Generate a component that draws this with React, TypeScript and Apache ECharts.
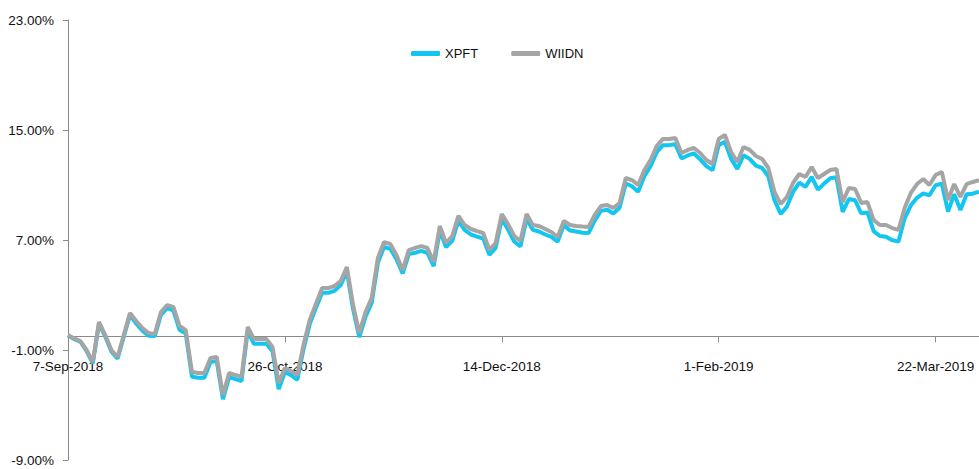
import React, { useEffect, useRef } from "react";
import * as echarts from "echarts";

// Weekday dates from 7-Sep-2018 (category axis, 148 trading days)
const startDate = new Date(2018, 8, 7);
const dayCount = 148;
const MONTHS = ["Jan", "Feb", "Mar", "Apr", "May", "Jun", "Jul", "Aug", "Sep", "Oct", "Nov", "Dec"];
const dates: string[] = [];
{
  const d = new Date(startDate);
  while (dates.length < dayCount) {
    const wd = d.getDay();
    if (wd !== 0 && wd !== 6) dates.push(`${d.getDate()}-${MONTHS[d.getMonth()]}-${d.getFullYear()}`);
    d.setDate(d.getDate() + 1);
  }
}

const seriesNames = ["XPFT", "WIIDN"];

const xpft = [
  0.06, -0.21, -0.40, -1.08, -1.97, 0.92, -0.01, -1.10, -1.63, -0.03,
  1.54, 0.93, 0.40, 0.04, 0.01, 1.56, 2.05, 1.88, 0.47, 0.20,
  -2.95, -3.02, -3.02, -1.88, -1.79, -4.57, -2.97, -3.12, -3.26, 0.42,
  -0.55, -0.55, -0.55, -1.08, -3.85, -2.61, -2.83, -3.17, -0.94, 0.88,
  2.05, 3.16, 3.16, 3.30, 3.72, 4.74, 1.97, -0.06, 1.41, 2.43,
  5.34, 6.50, 6.36, 5.61, 4.57, 5.97, 6.07, 6.21, 6.07, 5.10,
  7.67, 6.48, 6.94, 8.40, 7.74, 7.40, 7.25, 7.11, 5.92, 6.43,
  8.54, 7.76, 6.89, 6.53, 8.54, 7.74, 7.62, 7.40, 7.23, 6.87,
  8.08, 7.69, 7.62, 7.53, 7.50, 8.42, 9.12, 9.20, 8.93, 9.34,
  11.11, 10.91, 10.50, 11.64, 12.37, 13.39, 13.90, 13.90, 13.97, 12.93,
  13.15, 13.29, 12.88, 12.37, 12.08, 13.90, 14.14, 12.90, 12.17, 13.16,
  12.90, 12.41, 12.24, 11.64, 9.89, 8.90, 9.43, 10.50, 11.18, 10.86,
  11.59, 10.66, 11.10, 11.49, 11.56, 9.04, 9.98, 9.89, 8.94, 9.01,
  7.65, 7.29, 7.24, 6.99, 6.88, 8.58, 9.52, 10.07, 10.39, 10.25,
  10.98, 11.10, 9.06, 10.32, 9.18, 10.32, 10.37, 10.51,
];

const wiidn = [
  0.09, -0.16, -0.35, -1.00, -1.87, 1.04, 0.09, -1.00, -1.51, 0.09,
  1.69, 1.11, 0.60, 0.24, 0.16, 1.76, 2.27, 2.13, 0.75, 0.45,
  -2.60, -2.67, -2.67, -1.58, -1.51, -4.27, -2.67, -2.82, -2.96, 0.67,
  -0.20, -0.20, -0.20, -0.78, -3.40, -2.31, -2.53, -2.82, -0.64, 1.18,
  2.35, 3.51, 3.51, 3.65, 4.02, 5.04, 2.27, 0.24, 1.76, 2.78,
  5.69, 6.85, 6.71, 5.91, 4.82, 6.27, 6.42, 6.56, 6.42, 5.40,
  8.02, 6.78, 7.29, 8.75, 8.09, 7.80, 7.65, 7.51, 6.27, 6.78,
  8.89, 8.16, 7.29, 6.93, 8.89, 8.09, 8.02, 7.80, 7.58, 7.22,
  8.38, 8.09, 8.02, 7.98, 7.95, 8.82, 9.47, 9.55, 9.33, 9.69,
  11.51, 11.36, 11.00, 12.09, 12.82, 13.84, 14.35, 14.35, 14.42, 13.33,
  13.55, 13.69, 13.33, 12.82, 12.53, 14.35, 14.64, 13.40, 12.67, 13.76,
  13.55, 13.11, 12.89, 12.24, 10.49, 9.62, 10.13, 11.15, 11.80, 11.58,
  12.31, 11.51, 11.80, 12.09, 12.16, 9.76, 10.78, 10.71, 9.69, 9.76,
  8.45, 8.09, 8.09, 7.87, 7.73, 9.33, 10.42, 11.07, 11.44, 11.00,
  11.73, 11.95, 9.91, 11.07, 10.13, 11.07, 11.22, 11.36,
];

const yMin = -9;
const yMax = 23;
const yStep = 8;
const labelEvery = 35;

const FONT = "'Liberation Sans', Arial, sans-serif";
const AXIS_COLOR = "#8a8a8a";

const GRID_TOP = 20;
const GRID_BOTTOM = 9;
const CHART_H = 469;

export default function App() {
  const ref = useRef<HTMLDivElement>(null);
  useEffect(() => {
    if (!ref.current) return;
    const chart = echarts.init(ref.current, undefined, { renderer: "svg" });
    // place the category axis (line, ticks, labels) at the y = 0 level
    const plotH = CHART_H - GRID_TOP - GRID_BOTTOM;
    const zeroFromBottom = ((0 - yMin) / (yMax - yMin)) * plotH;
    chart.setOption({
      animation: false,
      backgroundColor: "#ffffff",
      textStyle: { fontFamily: FONT },
      legend: {
        data: seriesNames,
        left: 411,
        top: 47,
        padding: 0,
        itemGap: 33,
        itemWidth: 29,
        itemHeight: 5,
        icon: "roundRect",
        textStyle: { fontFamily: FONT, fontSize: 13, color: "#111" },
      },
      grid: {
        left: 68,
        right: 0,
        top: GRID_TOP,
        bottom: GRID_BOTTOM,
        containLabel: false,
        outerBoundsMode: "none",
      },
      xAxis: {
        type: "category",
        data: dates,
        boundaryGap: false,
        position: "bottom",
        offset: -zeroFromBottom,
        axisLine: { show: true, onZero: false, lineStyle: { color: AXIS_COLOR, width: 1 } },
        axisTick: { show: true, interval: labelEvery - 1, length: 6, lineStyle: { color: AXIS_COLOR } },
        axisLabel: {
          interval: labelEvery - 1,
          margin: 23,
          fontFamily: FONT,
          fontSize: 13.5,
          color: "#111",
        },
        splitLine: { show: false },
      },
      yAxis: {
        type: "value",
        min: yMin,
        max: yMax,
        interval: yStep,
        axisLine: { show: true, lineStyle: { color: AXIS_COLOR, width: 1 } },
        axisTick: { show: true, length: 5, lineStyle: { color: AXIS_COLOR } },
        axisLabel: {
          margin: 14,
          fontFamily: FONT,
          fontSize: 13.5,
          color: "#111",
          formatter: (v: number) => `${v.toFixed(2)}%`,
        },
        splitLine: { show: false },
      },
      series: [
        {
          name: seriesNames[0],
          type: "line",
          data: xpft,
          showSymbol: false,
          symbol: "none",
          color: "#12C6F2",
          lineStyle: { width: 4, color: "#12C6F2" },
          z: 2,
        },
        {
          name: seriesNames[1],
          type: "line",
          data: wiidn,
          showSymbol: false,
          symbol: "none",
          color: "#A5A5A5",
          lineStyle: { width: 4, color: "#A5A5A5" },
          z: 3,
        },
      ],
    });
    return () => chart.dispose();
  }, []);
  return (
    <div
      ref={ref}
      style={{ position: "absolute", left: 0, top: 0, width: 979, height: 469 }}
    />
  );
}
